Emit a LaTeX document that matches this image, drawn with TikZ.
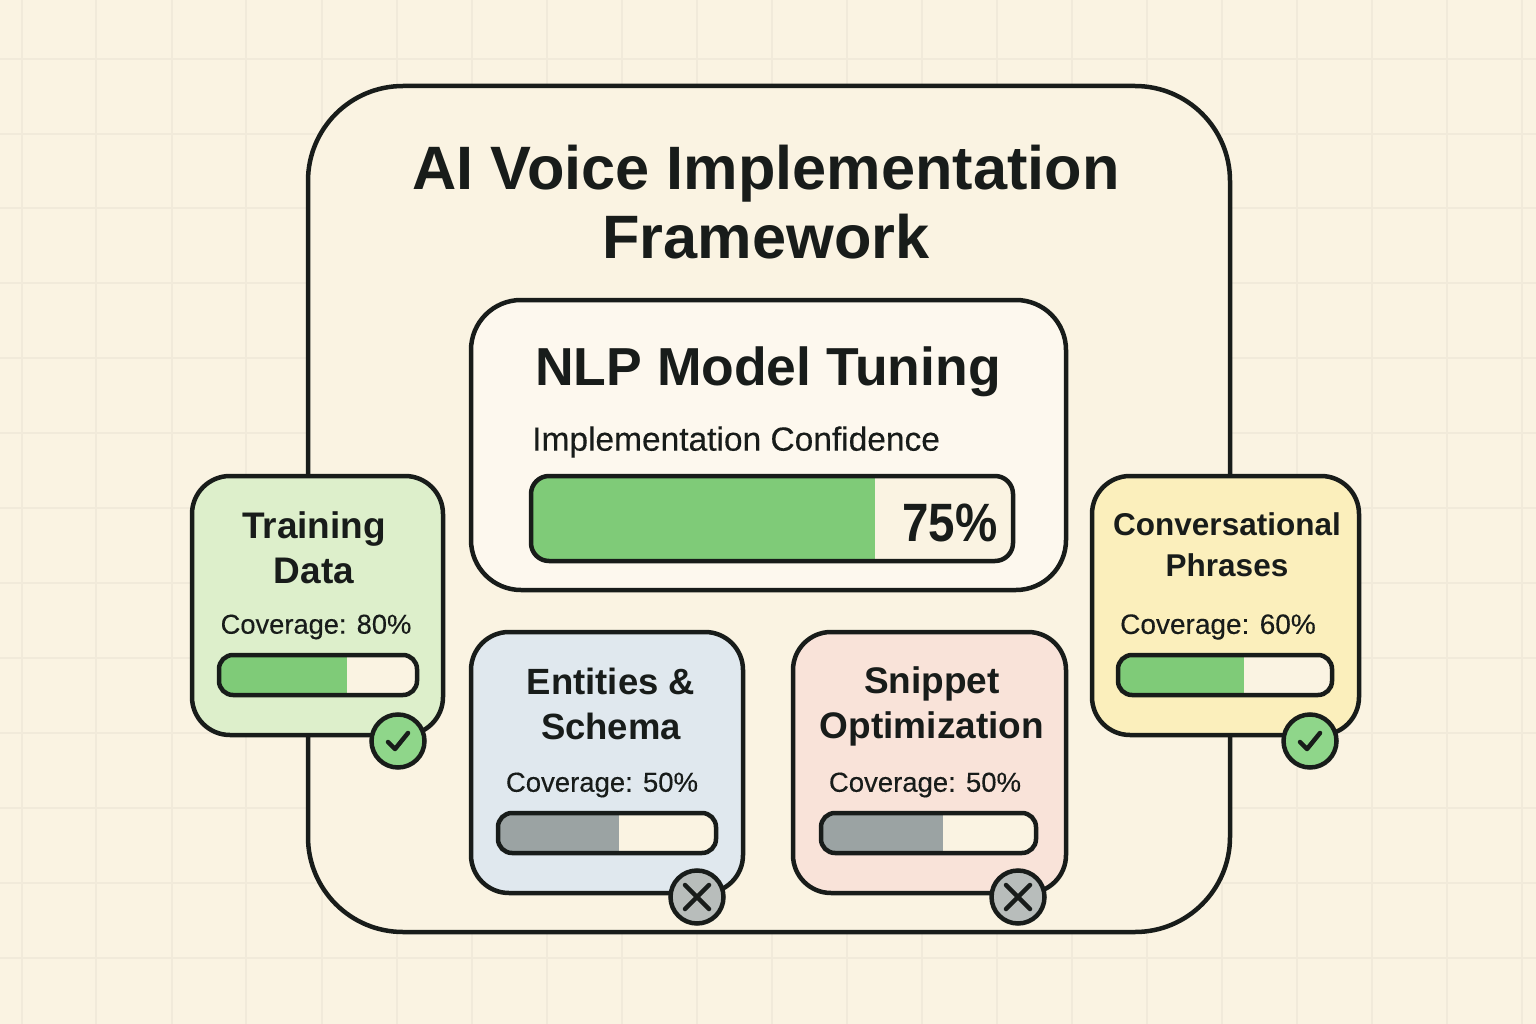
\documentclass[tikz,border=0pt]{standalone}
\usepackage{fontspec}
\setmainfont{Liberation Sans}
\newfontfamily\medfont[FakeBold=0.3]{Liberation Sans}
\definecolor{paper}{HTML}{FAF3E2}
\definecolor{gridc}{HTML}{F1EADA}
\definecolor{ink}{HTML}{181C1A}
\definecolor{barg}{HTML}{7FCB78}
\definecolor{barn}{HTML}{9BA3A3}
\definecolor{okc}{HTML}{8FD68A}
\definecolor{noc}{HTML}{B8BDBB}
\definecolor{cardg}{HTML}{DDEFCB}
\definecolor{cardy}{HTML}{FBEFBC}
\definecolor{cardb}{HTML}{E0E8EE}
\definecolor{cardr}{HTML}{F9E3D9}
\definecolor{cardw}{HTML}{FDF8EE}
\tikzset{
 x=1pt,y=-1pt,
 panel/.style={draw=ink,line width=4.5pt,inner sep=0pt,outer sep=0pt,rounded corners=#1},
 txt/.style={text=ink,inner sep=0pt,align=center,font=\medfont\fontsize{#1}{#1}\selectfont},
 badge/.style={circle,draw=ink,line width=4.5pt,minimum size=53pt,inner sep=0pt,outer sep=0pt},
 glyph/.style={draw=ink,line width=4.5pt,line cap=round,line join=round},
}
% box from corners: #1 name, #2 x0, #3 y0, #4 x1, #5 y1, #6 fill, #7 radius
\newcommand{\boxat}[7]{\pgfmathsetmacro{\bw}{#4-#2}\pgfmathsetmacro{\bh}{#5-#3}
 \node[panel=#7,fill=#6,minimum width=\bw pt,minimum height=\bh pt,anchor=north west] (#1) at (#2,#3) {};}
% progress bar: name, x0,y0,x1,y1, fill end x, fill colour, radius
\newcommand{\barat}[8]{
 \begin{scope}
 \clip[rounded corners=#8] (#2,#3) rectangle (#4,#5);
 \fill[paper] (#2,#3) rectangle (#4,#5);
 \fill[#7] (#2,#3) rectangle (#6,#5);
 \end{scope}
 \pgfmathsetmacro{\bw}{#4-#2}\pgfmathsetmacro{\bh}{#5-#3}
 \node[panel=#8,minimum width=\bw pt,minimum height=\bh pt,anchor=north west] (#1) at (#2,#3) {};}
\begin{document}
\begin{tikzpicture}
\useasboundingbox (0,0) rectangle (1536,1024);
\fill[paper] (0,0) rectangle (1536,1024);
\foreach \gx in {22,96,172,246,322,397,472,547,622,697,772,847,922,997,1072,1147,1222,1297,1372,1447,1522}
  \draw[gridc,line width=1.6pt] (\gx,0) -- (\gx,1024);
\foreach \gy in {59,134,208,283,358,433,508,583,658,733,808,883,958}
  \draw[gridc,line width=1.6pt] (0,\gy) -- (1536,\gy);

\boxat{frame}{308}{86}{1230}{932}{paper}{95pt}
\node[txt=61,font=\fontsize{61.3}{68}\selectfont\bfseries] (title) at (766,202) {AI Voice Implementation\\[1pt]Framework};

\boxat{nlp}{471}{300}{1066}{590}{cardw}{50pt}
\node[txt=54,font=\fontsize{53.5}{54}\selectfont\bfseries] (nlpt) at (768,372) {NLP Model Tuning};
\node[txt=33.5,anchor=west] (conf) at (532,442) {Implementation Confidence};
\barat{nlpb}{531}{476}{1013}{561}{875}{barg}{18pt}
\node[txt=54,font=\fontsize{54}{54}\selectfont\bfseries] (pct) at (950,523) {\scalebox{.88}[1]{75\%}};

\boxat{train}{192}{476}{443}{735}{cardg}{38pt}
\node[txt=37,font=\fontsize{37}{45}\selectfont\bfseries] (traint) at (314,548) {Training\\Data};
\node[txt=27.3] (trainc) at (316,627) {Coverage: 80\%};
\barat{trainb}{219}{655}{417}{695}{347}{barg}{14pt}
\node[badge,fill=okc] (trainok) at (398,741) {};
\draw[glyph] (388,742) -- (395,749) -- (408,733);

\boxat{conv}{1092}{476}{1359}{735}{cardy}{38pt}
\node[txt=31.5,font=\fontsize{31.5}{41}\selectfont\bfseries] (convt) at (1227,545) {Conversational\\Phrases};
\node[txt=28] (convc) at (1218,627) {Coverage: 60\%};
\barat{convb}{1118}{655}{1332}{695}{1244}{barg}{14pt}
\node[badge,fill=okc] (convok) at (1310,741) {};
\draw[glyph] (1300,742) -- (1307,749) -- (1320,733);

\boxat{ent}{471}{632}{743}{893}{cardb}{38pt}
\node[txt=36,font=\fontsize{36.5}{45}\selectfont\bfseries] (entt) at (611,704) {Entities \&\\Schema};
\node[txt=27.5] (entc) at (602,785) {Coverage: 50\%};
\barat{entb}{498}{813}{716}{853}{619}{barn}{14pt}
\node[badge,fill=noc] (entno) at (697,897) {};
\draw[glyph] (685,885) -- (709,909) (709,885) -- (685,909);

\boxat{snip}{793}{632}{1066}{893}{cardr}{38pt}
\node[txt=37,font=\fontsize{37}{45}\selectfont\bfseries] (snipt) at (932,706) {Snippet\\Optimization};
\node[txt=27.5] (snipc) at (925,785) {Coverage: 50\%};
\barat{snipb}{821}{813}{1036}{853}{943}{barn}{14pt}
\node[badge,fill=noc] (snipno) at (1018,897) {};
\draw[glyph] (1006,885) -- (1030,909) (1030,885) -- (1006,909);
\end{tikzpicture}
\end{document}
